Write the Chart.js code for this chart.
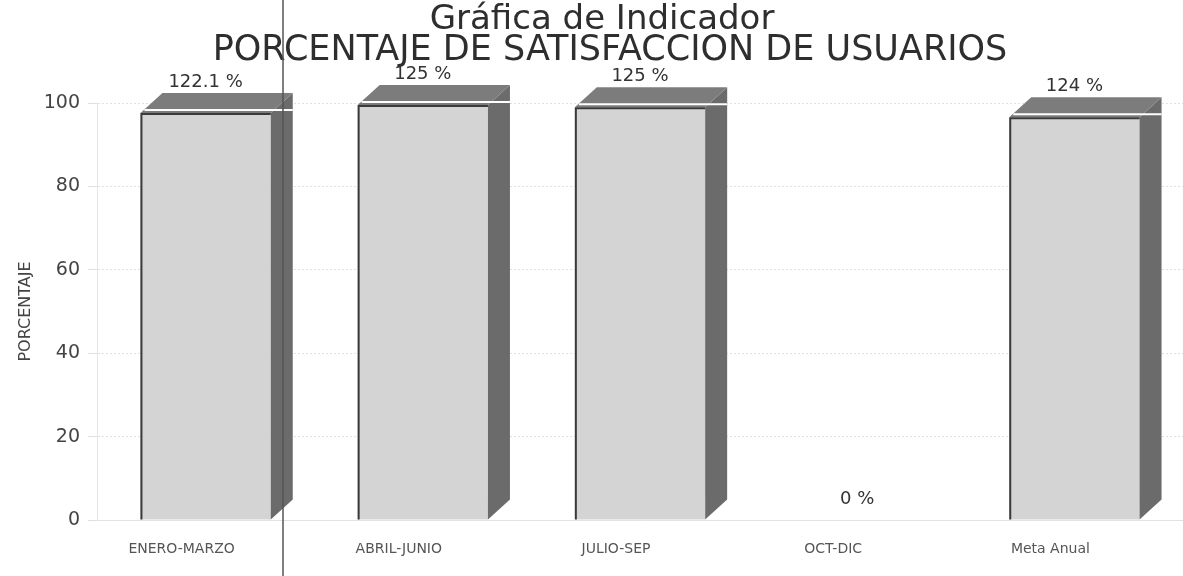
<!DOCTYPE html>
<html>
<head>
<meta charset="utf-8">
<script src="https://cdn.jsdelivr.net/npm/chart.js@4.4.0/dist/chart.umd.min.js"></script>
<style>
  html, body { margin: 0; padding: 0; background: #fff; }
  #wrap { width: 1183px; height: 576px; }
</style>
</head>
<body>
<div id="wrap"><canvas id="grafica" width="1183" height="576"></canvas></div>
<script>
// datos
const periodos = ['ENERO-MARZO', 'ABRIL-JUNIO', 'JULIO-SEP', 'OCT-DIC', 'Meta Anual'];
const porcentajes = [122.1, 125, 125, 0, 124];     // lo que dicen las etiquetas
const alturas = [97.6, 99.5, 99, 0, 96.6];          // altura visible de cada barra (recortada en 100)
const ticksY = [0, 20, 40, 60, 80, 100];

const fuente = "'DejaVu Sans', Verdana, sans-serif";

// dibuja las caras de profundidad, titulos y etiquetas de valor
const barras3d = {
  id: 'barras3d',
  afterDatasetsDraw(chart) {
    const ctx = chart.ctx;
    const meta = chart.getDatasetMeta(0);
    const dx = 22, dy = 20;
    ctx.save();
    meta.data.forEach((bar, i) => {
      const L = bar.x - bar.width / 2, R = bar.x + bar.width / 2;
      const T = bar.y, B = bar.base;
      if (alturas[i] > 0) {
        // cara lateral
        ctx.fillStyle = '#6b6b6b';
        ctx.beginPath();
        ctx.moveTo(R, T); ctx.lineTo(R + dx, T - dy); ctx.lineTo(R + dx, B - dy); ctx.lineTo(R, B);
        ctx.closePath(); ctx.fill();
        // cara superior
        ctx.fillStyle = '#7c7c7c';
        ctx.beginPath();
        ctx.moveTo(L, T); ctx.lineTo(L + dx, T - dy); ctx.lineTo(R + dx, T - dy); ctx.lineTo(R, T);
        ctx.closePath(); ctx.fill();
        ctx.strokeStyle = '#ffffff'; ctx.lineWidth = 2;
        ctx.beginPath(); ctx.moveTo(L + 4, T - 3); ctx.lineTo(R + dx, T - 3); ctx.stroke();
        // bordes oscuros del frente
        ctx.strokeStyle = '#3a3a3a'; ctx.lineWidth = 2;
        ctx.beginPath(); ctx.moveTo(L + 1, B); ctx.lineTo(L + 1, T + 1); ctx.lineTo(R, T + 1); ctx.stroke();
      }
    });
    ctx.restore();
  },
  afterDraw(chart) {
    const ctx = chart.ctx;
    const meta = chart.getDatasetMeta(0);
    ctx.save();
    ctx.fillStyle = '#2e2e2e';
    ctx.textAlign = 'center';
    ctx.textBaseline = 'middle';
    ctx.font = '34px ' + fuente;
    ctx.fillText('Gráfica de Indicador', 602, 20);
    ctx.font = '35px ' + fuente;
    ctx.fillText('PORCENTAJE DE SATISFACCION DE USUARIOS', 610, 51);
    ctx.font = '18px ' + fuente;
    ctx.fillStyle = '#333';
    ctx.textBaseline = 'bottom';
    meta.data.forEach((bar, i) => {
      const y = alturas[i] > 0 ? bar.y - 22 : bar.y - 12;
      ctx.fillText(porcentajes[i] + ' %', bar.x, y);
    });
    // linea del escaneo
    ctx.strokeStyle = '#555';
    ctx.lineWidth = 1.5;
    ctx.beginPath(); ctx.moveTo(283, 0); ctx.lineTo(283, 576); ctx.stroke();
    ctx.restore();
  }
};

new Chart(document.getElementById('grafica'), {
  type: 'bar',
  data: {
    labels: periodos,
    datasets: [{
      data: alturas,
      backgroundColor: '#d4d4d4',
      borderWidth: 0,
      barPercentage: 0.8,
      categoryPercentage: 0.75
    }]
  },
  options: {
    responsive: false,
    animation: false,
    layout: { padding: { top: 103, right: -4, left: 0, bottom: 0 } },
    plugins: { legend: { display: false }, tooltip: { enabled: false } },
    scales: {
      x: {
        grid: { display: false },
        border: { color: '#e2e2e2' },
        ticks: { color: '#555', font: { family: fuente, size: 14 }, labelOffset: -24, padding: 13 },
        afterFit(s) { s.height = 56; }
      },
      y: {
        min: 0, max: 100,
        afterBuildTicks(s) { s.ticks = ticksY.map(v => ({ value: v })); },
        grid: { color: '#e0e0e0', tickLength: 9 },
        border: { color: '#e6e6e6', dash: [2, 2] },
        ticks: { color: '#444', font: { family: fuente, size: 19 }, padding: 8 },
        title: { display: true, text: 'PORCENTAJE', color: '#444', font: { family: fuente, size: 16 }, padding: { top: 16, bottom: 0 } },
        afterFit(s) { s.width = 97; }
      }
    }
  },
  plugins: [barras3d]
});
</script>
</body>
</html>
